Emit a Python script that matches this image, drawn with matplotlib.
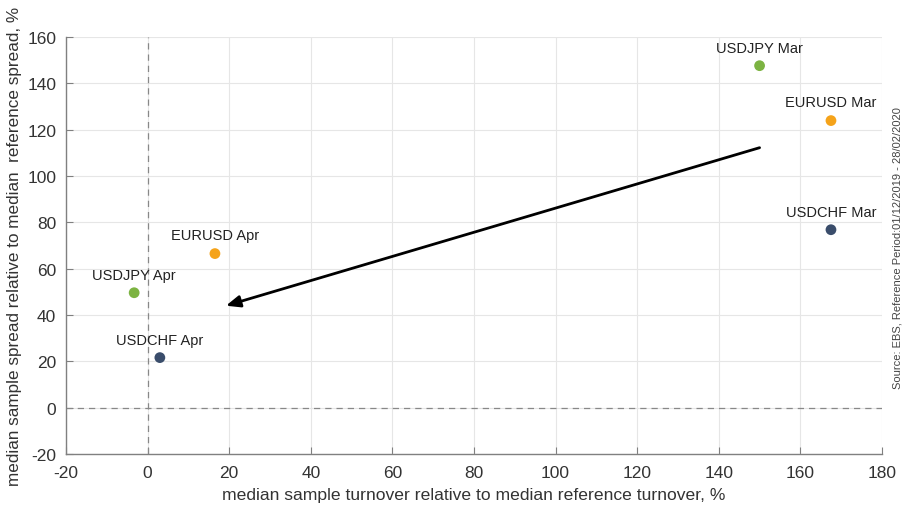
import matplotlib.pyplot as plt

plt.rcParams['font.family'] = ['Liberation Sans', 'DejaVu Sans']
plt.rcParams['axes.unicode_minus'] = False

# data
labels = ["USDJPY Mar", "EURUSD Mar", "USDCHF Mar", "EURUSD Apr", "USDJPY Apr", "USDCHF Apr"]
turnover = [150.0, 167.5, 167.5, 16.5, -3.3, 3.0]
spread = [147.6, 123.9, 76.8, 66.5, 49.6, 21.6]
colors = ["#7cb342", "#f5a31a", "#3a4d6b", "#f5a31a", "#7cb342", "#3a4d6b"]
arrow_start = (150.0, 112.2)
arrow_end = (19.2, 44.0)

fig = plt.figure(figsize=(9.07, 5.06), dpi=100)
ax = fig.add_axes([0.0728, 0.1008, 0.8996, 0.8242])

ax.set_xlim(-20, 180)
ax.set_ylim(-20, 160)
ax.set_xticks(range(-20, 181, 20))
ax.set_yticks(range(-20, 161, 20))
ax.grid(True, color="#e6e6e6", linewidth=0.8)
ax.set_axisbelow(True)

for s in ["top", "right"]:
    ax.spines[s].set_visible(False)
for s in ["left", "bottom"]:
    ax.spines[s].set_color("#808080")
    ax.spines[s].set_linewidth(1.0)
ax.tick_params(direction="in", length=5, color="#808080", labelsize=12.5, labelcolor="#333333")
ax.tick_params(axis="x", pad=8)
ax.tick_params(axis="y", pad=7)

ax.axhline(0, color="#888888", linestyle=(0, (5, 4)), linewidth=0.9)
ax.axvline(0, color="#888888", linestyle=(0, (5, 4)), linewidth=0.9)

ax.scatter(turnover, spread, s=60, c=colors, zorder=3, edgecolors="none")
for x, y, t in zip(turnover, spread, labels):
    ax.annotate(t, (x, y), xytext=(0, 8), textcoords="offset points",
                ha="center", va="bottom", fontsize=10.5, color="#222222")

ax.annotate("", xy=arrow_end, xytext=arrow_start,
            arrowprops=dict(arrowstyle="-|>,head_length=0.6,head_width=0.25", color="black", lw=2,
                            mutation_scale=14, shrinkA=0, shrinkB=0))

ax.set_xlabel("median sample turnover relative to median reference turnover, %",
              fontsize=12.6, color="#333333", labelpad=5)
ax.set_ylabel("median sample spread relative to median  reference spread, %",
              fontsize=12.3, color="#333333", labelpad=4)

fig.text(0.989, 0.51, "Source: EBS, Reference Period:01/12/2019 - 28/02/2020",
         rotation=90, fontsize=8, color="#444444", ha="center", va="center")

fig.savefig("out.png", dpi=100)
